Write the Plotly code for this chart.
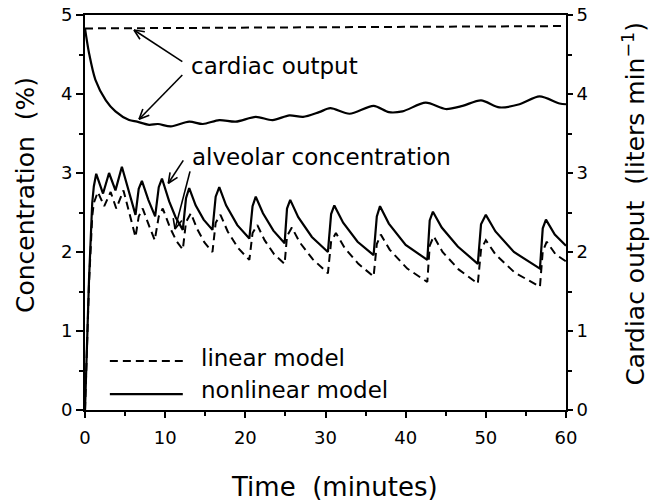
import math
import plotly.graph_objects as go

# ---- data ----
t_alv_nonlin = [0.0, 0.5, 0.9, 1.1, 1.4, 2.25, 3.0, 3.8, 4.6, 5.4, 6.3, 6.7, 7.1, 7.9, 8.75,
                9.2, 9.6, 10.5, 11.3, 12.2, 12.6, 13.0, 13.8, 14.8, 15.9, 16.3, 16.75, 17.6,
                19.0, 20.5, 20.9, 21.3, 22.2, 23.5, 24.9, 25.2, 25.6, 26.6, 28.3, 30.3, 30.7,
                31.1, 32.2, 34.0, 36.0, 36.4, 36.8, 37.9, 40.0, 42.7, 43.0, 43.4, 44.5, 46.5,
                49.0, 49.4, 50.0, 51.2, 53.5, 56.75, 57.1, 57.5, 58.6, 60.0]
c_alv_nonlin = [0.00, 1.65, 2.62, 2.83, 2.99, 2.74, 3.00, 2.78, 3.08, 2.78, 2.47, 2.80, 2.90, 2.66, 2.45,
                2.82, 2.93, 2.64, 2.44, 2.28, 2.68, 2.81, 2.59, 2.41, 2.28, 2.70, 2.82, 2.59,
                2.34, 2.17, 2.58, 2.70, 2.49, 2.27, 2.11, 2.55, 2.66, 2.44, 2.19, 2.00, 2.48,
                2.59, 2.37, 2.13, 1.96, 2.45, 2.58, 2.36, 2.09, 1.90, 2.40, 2.51, 2.31, 2.07,
                1.85, 2.35, 2.47, 2.26, 2.00, 1.79, 2.30, 2.41, 2.22, 2.08]

t_alv_lin = [0.0, 0.5, 0.9, 1.1, 1.6, 2.4, 3.2, 3.9, 4.8, 5.5, 6.3, 6.7, 7.2, 8.0, 8.7, 9.2, 9.7,
             10.6, 11.4, 12.2, 12.6, 13.2, 14.0, 14.9, 15.9, 16.3, 16.9, 17.8, 19.1, 20.5, 20.9,
             21.5, 22.4, 23.6, 24.9, 25.2, 25.8, 26.8, 28.4, 30.3, 30.7, 31.3, 32.4, 34.1, 36.0,
             36.4, 36.9, 38.0, 40.2, 42.7, 43.0, 43.5, 44.6, 46.6, 49.0, 49.4, 50.0, 51.2, 53.6,
             56.75, 57.1, 57.6, 58.7, 60.0]
c_alv_lin = [0.00, 1.60, 2.45, 2.62, 2.76, 2.58, 2.76, 2.55, 2.78, 2.50, 2.19, 2.45, 2.55, 2.33, 2.15,
             2.45, 2.55, 2.31, 2.14, 2.03, 2.38, 2.49, 2.29, 2.12, 2.00, 2.37, 2.47, 2.26, 2.05,
             1.90, 2.24, 2.34, 2.15, 1.97, 1.85, 2.20, 2.31, 2.12, 1.91, 1.73, 2.13, 2.24, 2.05,
             1.85, 1.69, 2.10, 2.22, 2.03, 1.79, 1.62, 2.08, 2.20, 2.00, 1.78, 1.60, 2.03, 2.15,
             1.97, 1.74, 1.56, 2.01, 2.13, 1.97, 1.88]

t_co_nonlin = [0.0, 0.5, 1.3, 2.6, 3.8, 5.5, 6.5, 8.0, 9.1, 10.7, 13.0, 14.7, 16.75, 18.8,
               21.3, 23.4, 25.5, 27.2, 29.2, 30.6, 33.0, 36.0, 37.9, 39.6, 42.5, 45.0, 47.1,
               49.4, 51.7, 54.2, 56.7, 59.2, 60.0]
co_nonlin = [4.83, 4.52, 4.18, 3.92, 3.78, 3.67, 3.65, 3.61, 3.62, 3.59, 3.65, 3.62, 3.67, 3.65,
             3.71, 3.67, 3.73, 3.71, 3.77, 3.82, 3.75, 3.85, 3.77, 3.78, 3.89, 3.81, 3.85,
             3.92, 3.83, 3.87, 3.97, 3.88, 3.87]

t_co_lin = [0.0, 60.0]
co_lin = [4.83, 4.86]

x_ticks = [0, 10, 20, 30, 40, 50, 60]
y_ticks = [0, 1, 2, 3, 4, 5]

FONT = "DejaVu Sans"
DASH = "8px,5px"

W, H = 658, 504
M = dict(l=85, r=92, t=15, b=94)
X_RANGE = [0, 60]
Y_RANGE = [0, 5]

fig = go.Figure()
fig.add_trace(go.Scatter(x=t_alv_lin, y=c_alv_lin, mode="lines", name="linear model",
                         line=dict(color="black", width=2, dash=DASH), showlegend=False))
fig.add_trace(go.Scatter(x=t_alv_nonlin, y=c_alv_nonlin, mode="lines", name="nonlinear model",
                         line=dict(color="black", width=2.2), showlegend=False))
fig.add_trace(go.Scatter(x=t_co_lin, y=co_lin, mode="lines", yaxis="y2",
                         line=dict(color="black", width=2, dash=DASH), showlegend=False))
fig.add_trace(go.Scatter(x=t_co_nonlin, y=co_nonlin, mode="lines", yaxis="y2",
                         line=dict(color="black", width=2.2, shape="spline", smoothing=0.8),
                         showlegend=False))

axis_common = dict(showgrid=False, zeroline=False, showline=True, linecolor="black",
                   linewidth=2, ticks="outside", tickcolor="black", tickwidth=1.5,
                   automargin=False, ticklabeloverflow="allow",
                   tickfont=dict(family=FONT, size=18, color="black"))

fig.update_layout(
    width=W, height=H,
    margin=M,
    paper_bgcolor="white", plot_bgcolor="white",
    font=dict(family=FONT, color="black"),
    xaxis=dict(range=X_RANGE, tickvals=x_ticks, ticklen=6, mirror=True,
               ticklabelstandoff=4,
               minor=dict(dtick=5, ticks="outside", ticklen=4, tickcolor="black", tickwidth=1.5),
               **axis_common),
    yaxis=dict(range=Y_RANGE, tickvals=y_ticks, ticklen=7,
               minor=dict(dtick=0.5, ticks="outside", ticklen=4, tickcolor="black", tickwidth=1.5),
               **axis_common),
    yaxis2=dict(range=Y_RANGE, tickvals=y_ticks, ticklen=5, overlaying="y", side="right",
                minor=dict(dtick=0.5, ticks="outside", ticklen=4, tickcolor="black", tickwidth=1.5),
                **axis_common),
)

# pointer arrows (head x, head y, tail x, tail y) in data units, drawn as line shapes
arrows = [
    (6.11, 4.81, 12.14, 4.41),
    (6.74, 3.68, 12.14, 4.24),
    (10.39, 2.87, 12.26, 3.16),
    (11.23, 2.29, 13.10, 3.02),
]
px_per_x = (W - M["l"] - M["r"]) / (X_RANGE[1] - X_RANGE[0])
px_per_y = (H - M["t"] - M["b"]) / (Y_RANGE[1] - Y_RANGE[0])
HEAD_LEN, HEAD_ANG = 11.0, math.radians(24)
arrow_line = dict(color="black", width=1.6)
for hx, hy, tx, ty in arrows:
    fig.add_shape(type="line", x0=tx, y0=ty, x1=hx, y1=hy, xref="x", yref="y", line=arrow_line)
    dxp, dyp = (tx - hx) * px_per_x, (ty - hy) * px_per_y
    n = math.hypot(dxp, dyp)
    ux, uy = dxp / n, dyp / n
    for s in (1, -1):
        a = s * HEAD_ANG
        rx = ux * math.cos(a) - uy * math.sin(a)
        ry = ux * math.sin(a) + uy * math.cos(a)
        fig.add_shape(type="line", x0=hx, y0=hy,
                      x1=hx + HEAD_LEN * rx / px_per_x, y1=hy + HEAD_LEN * ry / px_per_y,
                      xref="x", yref="y", line=arrow_line)

ann_font = dict(family=FONT, size=23, color="black")
texts = [
    ("cardiac output", 13.0, 4.35),
    ("alveolar concentration", 13.15, 3.20),
    ("linear model", 14.2, 0.66),
    ("nonlinear model", 14.2, 0.25),
]
for s, x, y in texts:
    fig.add_annotation(x=x, y=y, xref="x", yref="y", text=s, showarrow=False,
                       xanchor="left", yanchor="middle", font=ann_font)

# legend samples
fig.add_shape(type="line", x0=3.1, x1=12.2, y0=0.62, y1=0.62, xref="x", yref="y",
              line=dict(color="black", width=2, dash=DASH))
fig.add_shape(type="line", x0=3.1, x1=12.2, y0=0.20, y1=0.20, xref="x", yref="y",
              line=dict(color="black", width=2.2))

# axis titles
fig.add_annotation(text="Time\u00a0 (minutes)", x=0.518, y=-0.195, xref="paper", yref="paper",
                   showarrow=False, xanchor="center", yanchor="middle",
                   font=dict(family=FONT, size=26, color="black"))
fig.add_annotation(text="Concentration\u00a0 (%)", x=-0.125, y=0.544, xref="paper", yref="paper",
                   showarrow=False, xanchor="center", yanchor="middle", textangle=-90,
                   font=dict(family=FONT, size=25, color="black"))
fig.add_annotation(text="Cardiac output\u00a0 (liters min<sup>\u22121</sup>)", x=1.143, y=0.522,
                   xref="paper", yref="paper", showarrow=False, xanchor="center",
                   yanchor="middle", textangle=-90,
                   font=dict(family=FONT, size=25, color="black"))

# remove the default page margin so the figure fills the 658x504 window exactly
fig.write_html("out.html", config={"displayModeBar": False},
               post_script="document.body.style.margin='0';document.body.style.overflow='hidden';")
